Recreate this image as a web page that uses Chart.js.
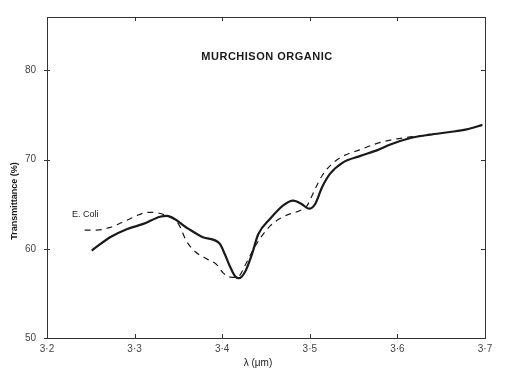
<!DOCTYPE html>
<html>
<head>
<meta charset="utf-8">
<script src="https://cdn.jsdelivr.net/npm/chart.js@4/dist/chart.umd.min.js"></script>
<style>
html,body{margin:0;padding:0;background:#fff;}
#wrap{width:519px;height:376px;position:relative;}
</style>
</head>
<body>
<div id="wrap"><canvas id="c" width="519" height="376"></canvas></div>
<script>
// Murchison organic (solid)
const lambdaMurchison = [3.251,3.272,3.291,3.310,3.329,3.337,3.359,3.378,3.397,3.403,3.409,3.415,3.419,3.426,3.434,3.441,3.455,3.470,3.481,3.491,3.499,3.506,3.514,3.523,3.538,3.557,3.578,3.592,3.614,3.637,3.660,3.679,3.697];
const tMurchison      = [59.8, 61.3, 62.2, 62.8, 63.6, 63.7, 62.4, 61.3, 60.6, 59.4, 58.0, 56.9, 56.7, 57.4, 59.4, 61.6, 63.4, 64.9, 65.4, 65.0, 64.5, 65.0, 66.9, 68.4, 69.7, 70.4, 71.1, 71.7, 72.4, 72.8, 73.1, 73.4, 73.9];
// E. Coli (dashed)
const lambdaEColi = [3.243,3.257,3.272,3.291,3.310,3.319,3.337,3.350,3.359,3.369,3.382,3.394,3.401,3.411,3.417,3.428,3.437,3.455,3.472,3.489,3.496,3.506,3.514,3.525,3.538,3.557,3.576,3.592,3.611,3.630,3.645];
const tEColi      = [62.1, 62.1, 62.4, 63.2, 64.0, 64.1, 63.7, 62.8, 60.9, 59.7, 58.9, 58.2, 57.3, 56.8, 56.8, 58.5, 60.2, 62.6, 63.7, 64.3, 64.7, 66.7, 68.2, 69.5, 70.4, 71.1, 71.8, 72.2, 72.5, 72.7, 72.9];
const xTicks = [3.2,3.3,3.4,3.5,3.6,3.7];
const yTicks = [50,60,70,80];
const chartTitle = "MURCHISON ORGANIC";
const seriesLabel = "E. Coli";
const yTitle = "Transmittance (%)";
const xTitle = "λ (μm)";

const FONT = "'Liberation Sans', Arial, sans-serif";
const INK = "#1a1a1a";

const framePlugin = {
  id: 'frame',
  afterDraw(chart) {
    const {ctx, chartArea: a, scales} = chart;
    ctx.save();
    ctx.strokeStyle = '#333';
    ctx.lineWidth = 1;
    ctx.strokeRect(a.left + 0.5, a.top + 0.5, a.right - a.left, a.bottom - a.top);
    ctx.beginPath();
    xTicks.forEach(v => {
      const px = Math.round(scales.x.getPixelForValue(v)) + 0.5;
      ctx.moveTo(px, a.bottom); ctx.lineTo(px, a.bottom - 4);
      ctx.moveTo(px, a.top); ctx.lineTo(px, a.top + 4);
    });
    yTicks.forEach(v => {
      const py = Math.round(scales.y.getPixelForValue(v)) + 0.5;
      ctx.moveTo(a.left - 3, py); ctx.lineTo(a.left + 3, py);
      ctx.moveTo(a.right, py); ctx.lineTo(a.right - 4, py);
    });
    ctx.stroke();
    // texts
    ctx.fillStyle = INK;
    ctx.textAlign = 'center';
    ctx.textBaseline = 'middle';
    ctx.font = "bold 11px " + FONT;
    if ('letterSpacing' in ctx) ctx.letterSpacing = '0.5px';
    ctx.fillText(chartTitle, 267, 57);
    if ('letterSpacing' in ctx) ctx.letterSpacing = '0px';
    ctx.font = "9px " + FONT;
    ctx.textAlign = 'left';
    ctx.fillText(seriesLabel, 72, 215);
    ctx.textAlign = 'center';
    ctx.font = "10px " + FONT;
    ctx.fillText(xTitle, 258, 363);
    ctx.save();
    ctx.translate(15, 201);
    ctx.rotate(-Math.PI / 2);
    ctx.font = "bold 9px " + FONT;
    ctx.fillText(yTitle, 0, 0);
    ctx.restore();
    ctx.restore();
  }
};

new Chart(document.getElementById('c'), {
  type: 'line',
  data: {
    datasets: [
      {
        label: 'Murchison organic',
        data: lambdaMurchison.map((x, i) => ({x, y: tMurchison[i]})),
        borderColor: INK,
        borderWidth: 2.2,
        pointRadius: 0,
        tension: 0.4,
        cubicInterpolationMode: 'monotone',
        fill: false
      },
      {
        label: seriesLabel,
        data: lambdaEColi.map((x, i) => ({x, y: tEColi[i]})),
        borderColor: INK,
        borderWidth: 1.2,
        borderDash: [6, 5],
        pointRadius: 0,
        tension: 0.4,
        cubicInterpolationMode: 'monotone',
        fill: false
      }
    ]
  },
  options: {
    responsive: false,
    animation: false,
    layout: {padding: {top: 15, right: 34, left: 0, bottom: 0}},
    plugins: {legend: {display: false}, tooltip: {enabled: false}, title: {display: false}},
    scales: {
      x: {
        type: 'linear',
        min: 3.2, max: 3.7,
        border: {display: false},
        grid: {display: false, drawTicks: false},
        afterBuildTicks: s => { s.ticks = xTicks.map(v => ({value: v})); },
        afterFit: s => { s.height = 38; },
        ticks: {
          padding: 5,
          color: '#444',
          font: {family: FONT, size: 10},
          maxRotation: 0,
          callback: v => v.toFixed(1).replace('.', '·')
        }
      },
      y: {
        type: 'linear',
        min: 50, max: 86,
        border: {display: false},
        grid: {display: false, drawTicks: false},
        afterBuildTicks: s => { s.ticks = yTicks.map(v => ({value: v})); },
        afterFit: s => { s.width = 47; },
        ticks: {
          padding: 11,
          color: '#444',
          font: {family: FONT, size: 10},
          callback: v => String(v)
        }
      }
    }
  },
  plugins: [framePlugin]
});
</script>
</body>
</html>
